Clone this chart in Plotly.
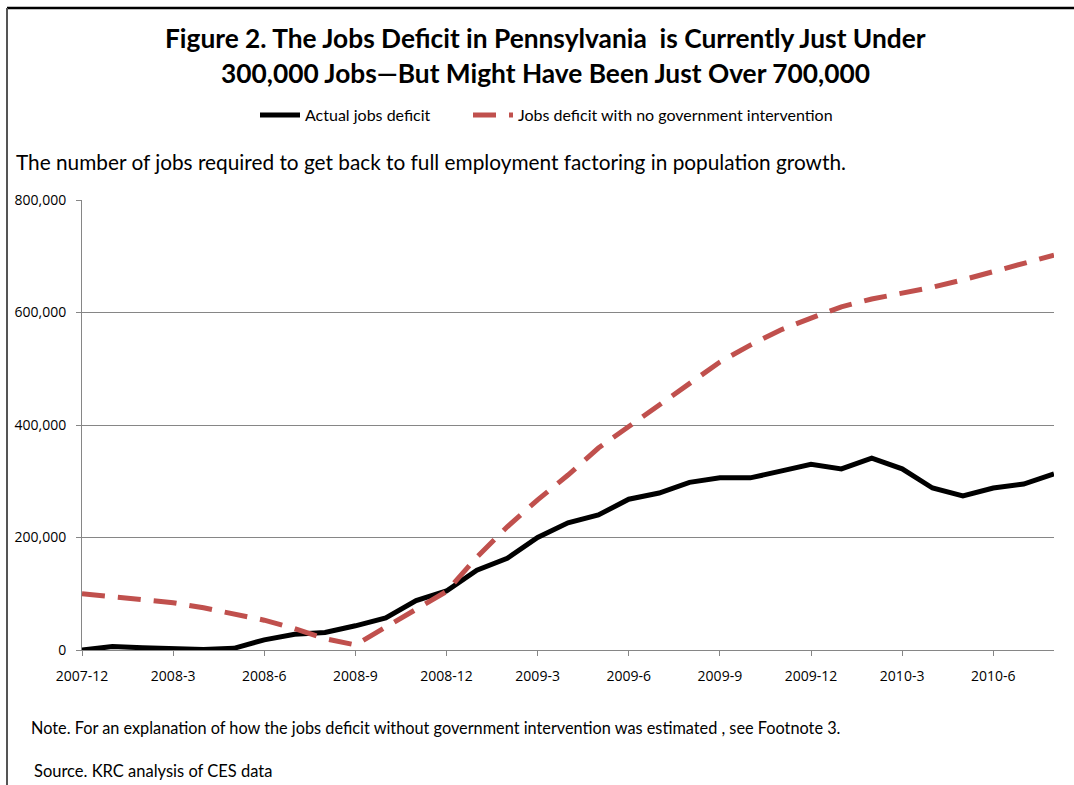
import plotly.graph_objects as go

months = ["2007-12"] + [f"2008-{m}" for m in range(1, 13)] + [f"2009-{m}" for m in range(1, 13)] + [f"2010-{m}" for m in range(1, 9)]

actual = [0, 6000, 4000, 3000, 1000, 3000, 18000, 28000, 31000, 43000, 57000, 88000, 105000,
          142000, 163000, 200000, 226000, 240000, 268000, 279000, 298000, 306000, 306000,
          318000, 330000, 322000, 341000, 322000, 288000, 274000, 288000, 295000, 313000]

no_intervention = [100000, 95000, 90000, 84000, 75000, 65000, 53000, 38000, 20000, 9000, 40000, 71000, 104000,
                   165000, 219000, 267000, 311000, 359000, 397000, 434000, 474000, 512000, 542000,
                   569000, 590000, 610000, 624000, 634000, 645000, 658000, 672000, 686000, 702000]

tick_labels = months[::3]
y_ticks = [0, 200000, 400000, 600000, 800000]

title_l1 = "Figure 2. The Jobs Deficit in Pennsylvania  is Currently Just Under"
title_l2 = "300,000 Jobs\u2014But Might Have Been Just Over 700,000"
subtitle = "The number of jobs required to get back to full employment factoring in population growth."
note = "Note. For an explanation of how the jobs deficit without government intervention was estimated , see Footnote 3."
source = "Source. KRC analysis of CES data"

FONT = "Lato"
TICKFONT = "Open Sans"

fig = go.Figure()
fig.add_trace(go.Scatter(x=months, y=actual, mode="lines", name="Actual jobs deficit",
                         line=dict(color="#000000", width=5), legend="legend"))
fig.add_trace(go.Scatter(x=months, y=no_intervention, mode="lines",
                         name="Jobs deficit with no government intervention",
                         line=dict(color="#C0504D", width=5, dash="23px,13px"), legend="legend2"))

L, R, T, B = 82, 20, 200, 135
W, H = 1074, 785
pw, ph = W - L - R, H - T - B

def px(x):
    return (x - L) / pw

def py(y):
    return (H - B - y) / ph

leg_common = dict(orientation="h", xanchor="left", y=py(115), yanchor="middle",
                  font=dict(family=FONT, size=16, color="#000000"), itemwidth=40,
                  bgcolor="rgba(0,0,0,0)")

fig.update_layout(
    width=W, height=H,
    margin=dict(l=L, r=R, t=T, b=B, pad=0),
    paper_bgcolor="white", plot_bgcolor="white",
    font=dict(family=FONT, color="#000000"),
    showlegend=True,
    legend=dict(x=px(255), **leg_common),
    legend2=dict(x=px(468), **leg_common),
    xaxis=dict(type="category", range=[0, len(months) - 1], tickmode="array",
               tickvals=tick_labels, ticktext=tick_labels, showgrid=False,
               showline=True, linecolor="#868686", linewidth=1,
               ticks="outside", ticklen=5, tickcolor="#868686", ticklabelstandoff=8,
               tickfont=dict(family=TICKFONT, size=14, color="#000000"), zeroline=False),
    yaxis=dict(range=[0, 800000], tickmode="array", tickvals=y_ticks,
               ticktext=[f"{v:,}" for v in y_ticks], showgrid=True, gridcolor="#868686", gridwidth=1,
               showline=True, linecolor="#868686", linewidth=1,
               ticks="outside", ticklen=5, tickcolor="#868686", ticklabelstandoff=7,
               tickfont=dict(family=TICKFONT, size=14, color="#000000"), zeroline=False),
)

anns = [
    dict(text="<b>" + title_l1 + "</b>", x=px(545), y=py(38), size=26.3, xanchor="center"),
    dict(text="<b>" + title_l2 + "</b>", x=px(545), y=py(73), size=26.3, xanchor="center"),
    dict(text=subtitle, x=px(14), y=py(162), size=20.8, xanchor="left"),
    dict(text=note, x=px(29), y=py(727), size=16.3, xanchor="left"),
    dict(text=source, x=px(32), y=py(771), size=16.5, xanchor="left"),
]
for a in anns:
    fig.add_annotation(text=a["text"], x=a["x"], y=a["y"], xref="paper", yref="paper",
                       xanchor=a["xanchor"], yanchor="middle", showarrow=False,
                       font=dict(family=FONT, size=a["size"], color="#000000"))

# outer frame
fig.add_shape(type="line", xref="paper", yref="paper", x0=px(7), x1=px(1080), y0=py(8), y1=py(8),
              line=dict(color="#000000", width=2.5))
fig.add_shape(type="line", xref="paper", yref="paper", x0=px(7), x1=px(7), y0=py(8), y1=py(790),
              line=dict(color="#555555", width=2))

fig.write_html("out.html")
